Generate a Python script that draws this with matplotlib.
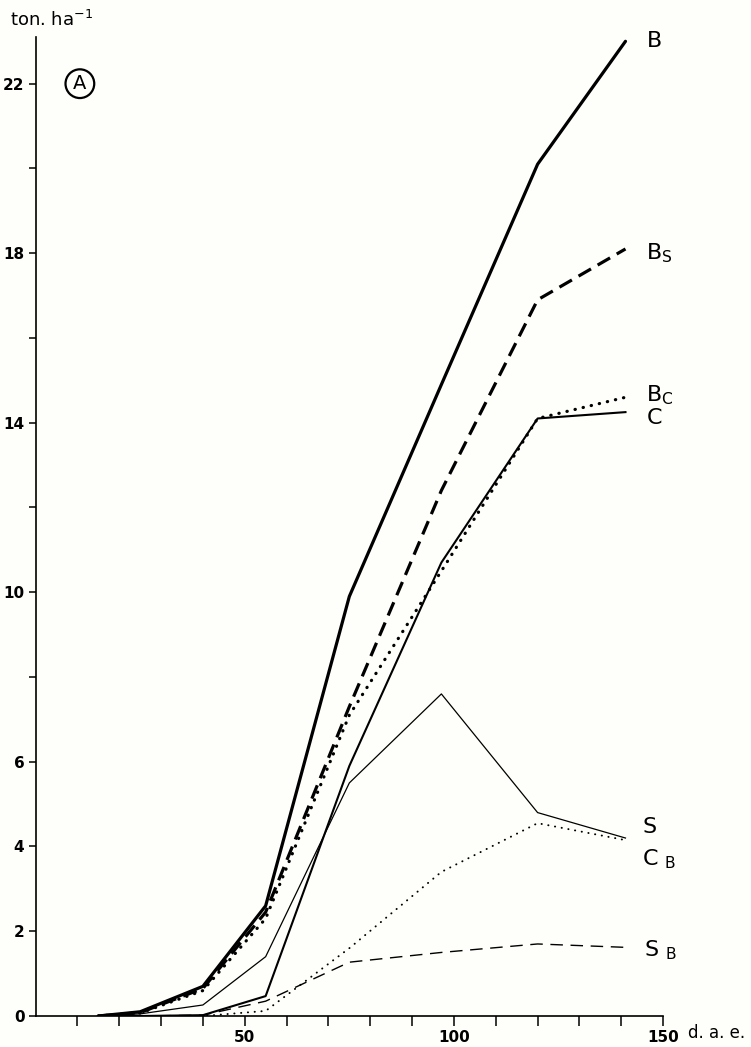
import matplotlib.pyplot as plt

# sampling dates (days after emergence) and dry matter, ton/ha
days = [15, 25, 40, 55, 75, 97, 120, 141]
B = [0, 0.1, 0.7, 2.6, 9.9, 14.9, 20.1, 23.0]
B_s = [0, 0.08, 0.65, 2.45, 7.3, 12.4, 16.9, 18.1]
B_c = [0, 0.07, 0.6, 2.3, 7.1, 10.5, 14.1, 14.6]
C = [0, 0, 0.02, 0.47, 5.9, 10.7, 14.1, 14.25]
S = [0, 0.05, 0.26, 1.4, 5.5, 7.6, 4.8, 4.2]
C_b = [0, 0, 0, 0.12, 1.6, 3.4, 4.55, 4.15]
S_b = [0, 0, 0.02, 0.35, 1.27, 1.5, 1.7, 1.62]

x_ticks = list(range(10, 151, 10))
x_labels = {50: '50', 100: '100', 150: '150'}
y_ticks = list(range(0, 23, 2))
y_labels = {0: '0', 2: '2', 4: '4', 6: '6', 10: '10', 14: '14', 18: '18', 22: '22'}

bg = '#fefefa'
fig = plt.figure(figsize=(7.51, 10.47), dpi=100, facecolor=bg)
ax = fig.add_axes([0.0473, 0.0296, 0.8357, 0.935], facecolor=bg)

ax.plot(days, B, color='black', lw=2.3, solid_capstyle='round')
ax.plot(days, B_s, color='black', lw=2.3, linestyle=(0, (4.5, 2.4)))
ax.plot(days, B_c, color='black', lw=2.3, linestyle=(0, (0.1, 2.5)), dash_capstyle='round')
ax.plot(days, C, color='black', lw=1.5)
ax.plot(days, S, color='black', lw=0.9)
ax.plot(days, C_b, color='black', lw=1.4, linestyle=(0, (0.1, 3.4)), dash_capstyle='round')
ax.plot(days, S_b, color='black', lw=1.0, linestyle=(0, (9, 5.5)))

ax.set_xlim(0, 150)
ax.set_ylim(0, 23.1)
for side in ['top', 'right']:
    ax.spines[side].set_visible(False)
for side in ['left', 'bottom']:
    ax.spines[side].set_linewidth(1.2)

ax.set_xticks(x_ticks)
ax.set_xticklabels([x_labels.get(t, '') for t in x_ticks])
ax.set_yticks(y_ticks)
ax.set_yticklabels([y_labels.get(t, '') for t in y_ticks])
ax.tick_params(axis='x', direction='out', length=7, width=1.1, labelsize=11, pad=3)
ax.tick_params(axis='y', direction='out', length=5, width=1.1, labelsize=11, pad=3)
for lbl in ax.get_yticklabels() + ax.get_xticklabels():
    lbl.set_fontweight('bold')

# curve names at the right-hand end
lab = dict(fontsize=16, va='center', ha='left', clip_on=False)
ax.text(146, 23.0, 'B', **lab)
ax.text(146, 18.0, 'B$_{\\mathregular{S}}$', **lab)
ax.text(146, 14.65, 'B$_{\\mathregular{C}}$', **lab)
ax.text(146, 14.1, 'C', **lab)
ax.text(145, 4.45, 'S', **lab)
ax.text(145, 3.7, 'C $_{\\mathregular{B}}$', **lab)
ax.text(145.5, 1.55, 'S $_{\\mathregular{B}}$', **lab)

ax.text(-6, 23.5, 'ton. ha$^{\\mathregular{-1}}$', fontsize=13, ha='left', va='center', clip_on=False)
ax.text(156, -0.4, 'd. a. e.', fontsize=12, ha='left', va='center', clip_on=False)
ax.text(10.6, 22.0, 'A', fontsize=14, ha='center', va='center',
        bbox=dict(boxstyle='circle,pad=0.25', fc='none', ec='black', lw=1.6))

fig.savefig('out.png', dpi=100, facecolor=bg)
